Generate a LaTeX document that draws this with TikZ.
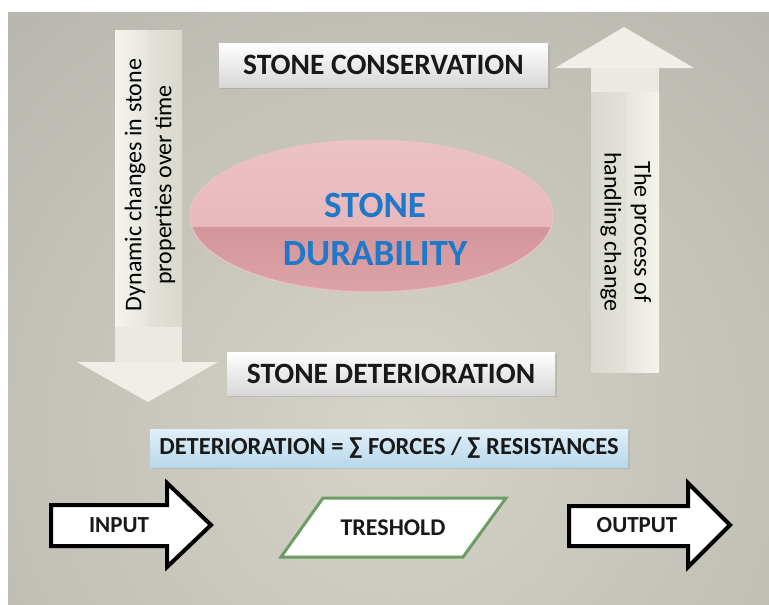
\documentclass[tikz,border=0pt]{standalone}
\usepackage{fontspec}
\setmainfont{Carlito}
\usetikzlibrary{shadows,shapes.geometric}
\definecolor{bgin}{HTML}{D6D4C8}
\definecolor{bgout}{HTML}{9C9B97}
\definecolor{shaftA}{HTML}{F4F3EC}
\definecolor{shaftB}{HTML}{E3E2D9}
\definecolor{headc}{HTML}{EFEEE7}
\definecolor{blockc}{HTML}{EBEAE2}
\definecolor{pinkLight}{HTML}{ECC2C5}
\definecolor{pinkTop}{HTML}{E4B0B4}
\definecolor{pinkBot}{HTML}{D3969A}
\definecolor{pinkBotB}{HTML}{DDA3A7}
\definecolor{durblue}{HTML}{1F78C8}
\definecolor{greenline}{HTML}{6B9E64}
\definecolor{blueTop}{HTML}{E0F0F9}
\definecolor{blueBot}{HTML}{B8D8EA}
\tikzset{
  labelbox/.style={draw=none, inner sep=0pt, top color=white, bottom color=black!4!gray!30!white,
    drop shadow={opacity=0.25, shadow xshift=1.5pt, shadow yshift=-2pt},
    font=\fontsize{29.5}{34}\selectfont\bfseries, text=black!90},
  formbox/.style={draw=none, inner sep=0pt, top color=blueTop, bottom color=blueBot,
    drop shadow={opacity=0.2, shadow xshift=1.5pt, shadow yshift=-2pt},
    font=\fontsize{24.5}{28}\selectfont\bfseries, text=black!90},
  flowarrow/.style={draw=black, line width=4pt, fill=white, line join=miter},
  arrowtext/.style={font=\fontsize{23}{27}\selectfont\bfseries, text=black!90, inner sep=0pt},
  vtext/.style={font=\fontsize{24}{30}\selectfont, align=center, inner sep=0pt, text=black},
}
\begin{document}
\begin{tikzpicture}[x=1pt,y=-1pt]
\useasboundingbox (0,0) rectangle (769,605);
\fill[white] (0,0) rectangle (769,605);
% background
\begin{scope}
  \clip (8,12) rectangle (769,605);
  \shade[inner color=bgin, outer color=bgout] (395,430) circle (1100);
\end{scope}

% left down arrow
\shade[left color=shaftA, right color=shaftA!94!black] (115,30) rectangle (148,327);
\shade[left color=shaftB, right color=shaftB!96!black] (148,30) rectangle (182,327);
\fill[blockc] (115,327) rectangle (182,362);
\fill[headc] (77,362) -- (218,362) -- (148,402) -- cycle;
\node[vtext, rotate=90] (dyn) at (150,185) {Dynamic changes in stone\\properties over time};

% right up arrow
\fill[headc] (555,68) -- (694,68) -- (624,27) -- cycle;
\fill[blockc] (591,68) rectangle (659,92);
\shade[left color=shaftB!96!black, right color=shaftB] (591,92) rectangle (626,372);
\shade[left color=shaftA!94!black, right color=shaftA] (626,92) rectangle (659,372);
\node[vtext, rotate=-90] (proc) at (626,232) {The process of\\handling change};

% boxes
\node[labelbox, minimum width=329pt, minimum height=44pt] (cons) at (383.5,65) {STONE CONSERVATION};
\node[labelbox, minimum width=328pt, minimum height=43pt] (det) at (391,373.5) {STONE DETERIORATION};

% ellipse
\node[ellipse, draw=pinkLight, line width=1pt, minimum width=363pt, minimum height=152pt,
  path picture={
    \shade[top color=pinkLight, bottom color=pinkTop] (path picture bounding box.north west) rectangle ([yshift=-11pt]path picture bounding box.east);
    \shade[top color=pinkBot, bottom color=pinkBotB] ([yshift=-11pt]path picture bounding box.west) rectangle (path picture bounding box.south east);
  }]
  (dur) at (371.5,216) {};
\node[font=\fontsize{37}{48}\selectfont\bfseries, text=durblue, align=center, inner sep=0pt] (durtext) at (375,230) {STONE\\DURABILITY};

% formula
\node[formbox, minimum width=478pt, minimum height=38pt] (form) at (389,448) {DETERIORATION = ∑ FORCES / ∑ RESISTANCES};

% input / output
\draw[flowarrow] (51,505) -- (167,505) -- (167,483) -- (211,525) -- (167,567) -- (167,546) -- (51,546) -- cycle;
\node[arrowtext] (in) at (119,525) {INPUT};
\draw[flowarrow] (569,506) -- (688,506) -- (688,483) -- (730,525) -- (688,567) -- (688,546) -- (569,546) -- cycle;
\node[arrowtext] (out) at (637,525) {OUTPUT};

% treshold
\draw[draw=greenline, line width=3pt, fill=white, line join=miter] (323,498) -- (506,498) -- (463,557) -- (281,557) -- cycle;
\node[font=\fontsize{24}{28}\selectfont\bfseries, text=black!90, inner sep=0pt] (thr) at (393,528) {TRESHOLD};
\end{tikzpicture}
\end{document}
